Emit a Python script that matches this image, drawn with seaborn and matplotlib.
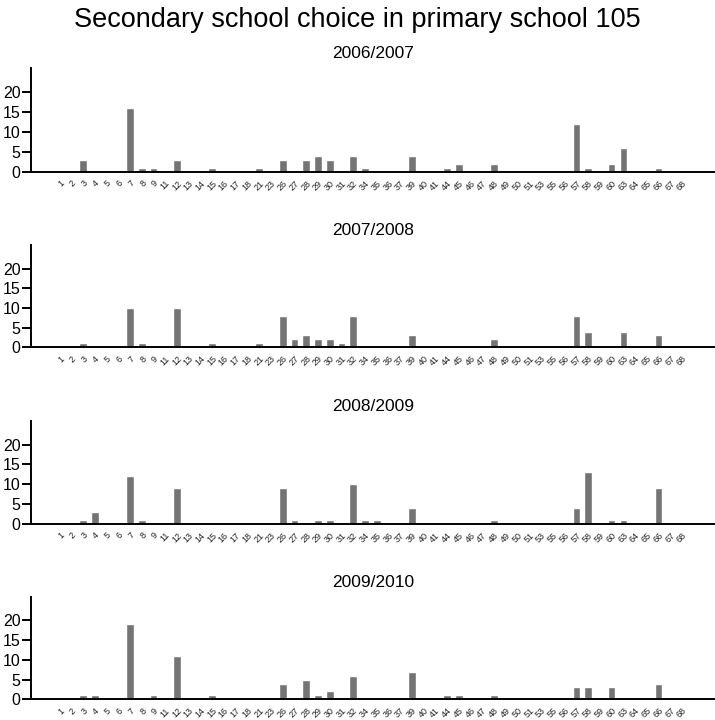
import matplotlib
matplotlib.use("Agg")
import matplotlib.pyplot as plt
import seaborn as sns
import pandas as pd

schools = ["1", "2", "3", "4", "5", "6", "7", "8", "9", "11", "12", "13", "14", "15",
           "16", "17", "18", "21", "23", "26", "27", "28", "29", "30", "31", "32", "34",
           "35", "36", "37", "39", "40", "41", "44", "45", "46", "47", "48", "49", "50",
           "51", "53", "55", "56", "57", "58", "59", "60", "63", "64", "65", "66", "67", "68"]

years = ["2006/2007", "2007/2008", "2008/2009", "2009/2010"]

counts_2006 = {"3": 3, "7": 16, "8": 1, "9": 1, "12": 3, "15": 1, "21": 1, "26": 3, "28": 3,
               "29": 4, "30": 3, "32": 4, "34": 1, "39": 4, "44": 1, "45": 2, "48": 2,
               "57": 12, "58": 1, "60": 2, "63": 6, "66": 1}
counts_2007 = {"3": 1, "7": 10, "8": 1, "12": 10, "15": 1, "21": 1, "26": 8, "27": 2, "28": 3,
               "29": 2, "30": 2, "31": 1, "32": 8, "39": 3, "48": 2, "57": 8, "58": 4,
               "63": 4, "66": 3}
counts_2008 = {"3": 1, "4": 3, "7": 12, "8": 1, "12": 9, "26": 9, "27": 1, "29": 1, "30": 1,
               "32": 10, "34": 1, "35": 1, "39": 4, "48": 1, "57": 4, "58": 13, "60": 1,
               "63": 1, "66": 9}
counts_2009 = {"3": 1, "4": 1, "7": 19, "9": 1, "12": 11, "15": 1, "26": 4, "28": 5, "29": 1,
               "30": 2, "32": 6, "39": 7, "44": 1, "45": 1, "48": 1, "57": 3, "58": 3,
               "60": 3, "66": 4}

all_counts = [counts_2006, counts_2007, counts_2008, counts_2009]
y_ticks = [0, 5, 10, 15, 20]

sns.set_style("white")
plt.rcParams["font.family"] = ["Liberation Sans", "DejaVu Sans"]
plt.rcParams["text.color"] = "black"

fig = plt.figure(figsize=(7.15, 7.2), dpi=100)
W, H = 715.0, 720.0
# (top px, baseline px)
panel_px = [(68, 171.7), (245, 347.3), (421, 523.7), (596.7, 699.3)]
left_px = 31

for (top, base), year, counts in zip(panel_px, years, all_counts):
    ax = fig.add_axes([left_px / W, 1 - base / H, 1 - left_px / W, (base - top) / H])
    df = pd.DataFrame({"school": schools,
                       "count": [counts.get(s, 0) for s in schools]})
    sns.barplot(data=df, x="school", y="count", order=schools, color="#747474",
                saturation=1, width=0.65, ax=ax)
    ax.set_xlim(-2.43, 55.8)
    ax.set_ylim(0, 26)
    ax.set_yticks(y_ticks)
    ax.set_xlabel("")
    ax.set_ylabel("")
    ax.set_title(year, fontsize=12.5, pad=7, color="black")
    for side in ["top", "right"]:
        ax.spines[side].set_visible(False)
    for side in ["left", "bottom"]:
        ax.spines[side].set_linewidth(1.4)
        ax.spines[side].set_color("black")
    ax.tick_params(axis="y", direction="out", length=6.5, width=1.4, labelsize=11.5,
                   pad=1, left=True, colors="black")
    ax.tick_params(axis="x", length=0, pad=5, labelsize=6.5, labelcolor="#222222")
    for lbl in ax.get_xticklabels():
        lbl.set_rotation(45)
        lbl.set_ha("right")
        lbl.set_rotation_mode("anchor")

fig.suptitle("Secondary school choice in primary school 105", fontsize=19.5, y=0.99,
             color="black")
fig.savefig("out.png", dpi=100)
